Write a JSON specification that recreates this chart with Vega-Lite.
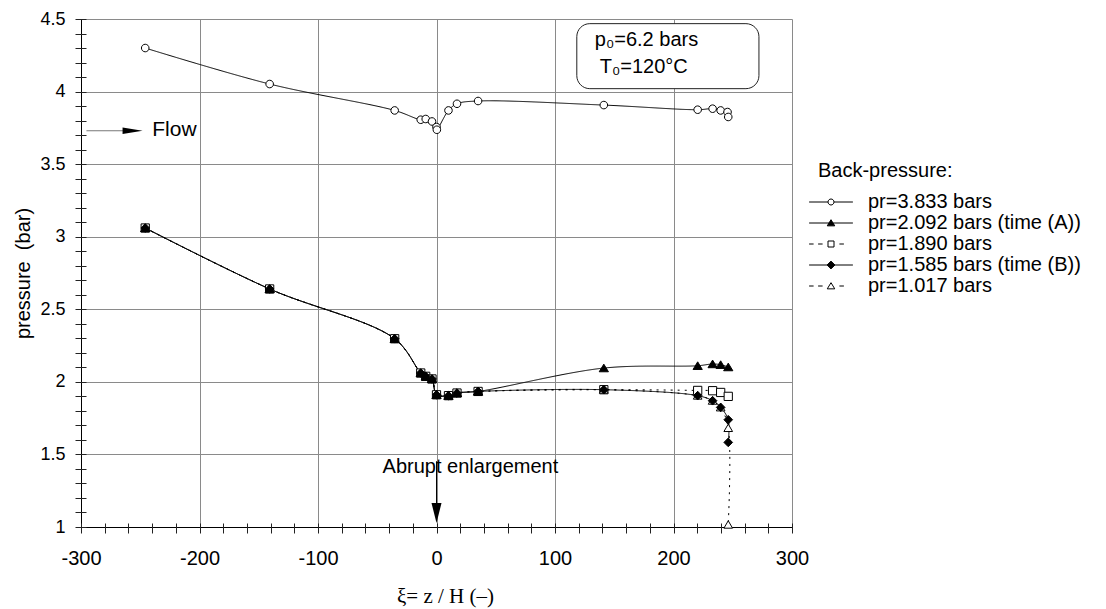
{
  "$schema": "https://vega.github.io/schema/vega-lite/v6.json",
  "width": 711,
  "height": 508,
  "autosize": {"type": "none"},
  "padding": {"left": 81, "top": 19, "right": 314, "bottom": 82},
  "background": "white",
  "config": {
    "view": {"stroke": null},
    "font": "Liberation Sans",
    "axis": {
      "domain": false,
      "tickColor": "#222",
      "tickWidth": 1,
      "labelColor": "#000",
      "titleColor": "#000",
      "titleFontWeight": "normal",
      "gridWidth": 1
    },
    "legend": {
      "orient": "none",
      "legendX": 737,
      "legendY": 142,
      "padding": 0,
      "symbolSize": 36,
      "symbolStrokeColor": "#000",
      "symbolStrokeWidth": 1,
      "symbolOffset": 3,
      "labelOffset": 27,
      "labelFont": "Liberation Sans",
      "labelFontSize": 20,
      "labelColor": "#000",
      "labelLimit": 400,
      "titleFont": "Liberation Sans",
      "titleFontSize": 20,
      "titleFontWeight": "normal",
      "titleColor": "#000",
      "titlePadding": 11,
      "rowPadding": 1
    }
  },
  "datasets": {
    "pressure": [
      {"series": "pr=3.833 bars", "i": 0, "x": -245.8, "y": 4.3},
      {"series": "pr=3.833 bars", "i": 1, "x": -140.8, "y": 4.052},
      {"series": "pr=3.833 bars", "i": 2, "x": -35.3, "y": 3.87},
      {"series": "pr=3.833 bars", "i": 3, "x": -13.3, "y": 3.806},
      {"series": "pr=3.833 bars", "i": 4, "x": -9.1, "y": 3.811},
      {"series": "pr=3.833 bars", "i": 5, "x": -3.8, "y": 3.794},
      {"series": "pr=3.833 bars", "i": 6, "x": 0, "y": 3.756},
      {"series": "pr=3.833 bars", "i": 7, "x": 0.3, "y": 3.737},
      {"series": "pr=3.833 bars", "i": 8, "x": 10.1, "y": 3.87},
      {"series": "pr=3.833 bars", "i": 9, "x": 17.3, "y": 3.916},
      {"series": "pr=3.833 bars", "i": 10, "x": 35.1, "y": 3.935},
      {"series": "pr=3.833 bars", "i": 11, "x": 141.2, "y": 3.907},
      {"series": "pr=3.833 bars", "i": 12, "x": 220.4, "y": 3.875},
      {"series": "pr=3.833 bars", "i": 13, "x": 233, "y": 3.882},
      {"series": "pr=3.833 bars", "i": 14, "x": 239.8, "y": 3.87},
      {"series": "pr=3.833 bars", "i": 15, "x": 245.6, "y": 3.859},
      {"series": "pr=3.833 bars", "i": 16, "x": 246.2, "y": 3.825},

      {"series": "pr=1.890 bars", "i": 0, "x": -245.8, "y": 3.06},
      {"series": "pr=1.890 bars", "i": 1, "x": -140.8, "y": 2.64},
      {"series": "pr=1.890 bars", "i": 2, "x": -35.3, "y": 2.297},
      {"series": "pr=1.890 bars", "i": 3, "x": -13.3, "y": 2.061},
      {"series": "pr=1.890 bars", "i": 4, "x": -9.1, "y": 2.038},
      {"series": "pr=1.890 bars", "i": 5, "x": -3.8, "y": 2.02},
      {"series": "pr=1.890 bars", "i": 6, "x": 0, "y": 1.911},
      {"series": "pr=1.890 bars", "i": 7, "x": 10.1, "y": 1.905},
      {"series": "pr=1.890 bars", "i": 8, "x": 17.3, "y": 1.923},
      {"series": "pr=1.890 bars", "i": 9, "x": 35.1, "y": 1.934},
      {"series": "pr=1.890 bars", "i": 10, "x": 141.2, "y": 1.946},
      {"series": "pr=1.890 bars", "i": 11, "x": 220.4, "y": 1.941},
      {"series": "pr=1.890 bars", "i": 12, "x": 233, "y": 1.939},
      {"series": "pr=1.890 bars", "i": 13, "x": 239.8, "y": 1.927},
      {"series": "pr=1.890 bars", "i": 14, "x": 246.2, "y": 1.9},

      {"series": "pr=1.017 bars", "i": 0, "x": -245.8, "y": 3.06},
      {"series": "pr=1.017 bars", "i": 1, "x": -140.8, "y": 2.64},
      {"series": "pr=1.017 bars", "i": 2, "x": -35.3, "y": 2.297},
      {"series": "pr=1.017 bars", "i": 3, "x": -13.3, "y": 2.061},
      {"series": "pr=1.017 bars", "i": 4, "x": -9.1, "y": 2.038},
      {"series": "pr=1.017 bars", "i": 5, "x": -3.8, "y": 2.02},
      {"series": "pr=1.017 bars", "i": 6, "x": 0, "y": 1.911},
      {"series": "pr=1.017 bars", "i": 7, "x": 10.1, "y": 1.905},
      {"series": "pr=1.017 bars", "i": 8, "x": 17.3, "y": 1.923},
      {"series": "pr=1.017 bars", "i": 9, "x": 35.1, "y": 1.934},
      {"series": "pr=1.017 bars", "i": 10, "x": 141.2, "y": 1.946},
      {"series": "pr=1.017 bars", "i": 11, "x": 220.4, "y": 1.905},
      {"series": "pr=1.017 bars", "i": 12, "x": 233, "y": 1.87},
      {"series": "pr=1.017 bars", "i": 13, "x": 239.8, "y": 1.824},
      {"series": "pr=1.017 bars", "i": 14, "x": 246.2, "y": 1.682},
      {"series": "pr=1.017 bars", "i": 15, "x": 246.2, "y": 1.016},

      {"series": "pr=2.092 bars (time (A))", "i": 0, "x": -245.8, "y": 3.06},
      {"series": "pr=2.092 bars (time (A))", "i": 1, "x": -140.8, "y": 2.64},
      {"series": "pr=2.092 bars (time (A))", "i": 2, "x": -35.3, "y": 2.297},
      {"series": "pr=2.092 bars (time (A))", "i": 3, "x": -13.3, "y": 2.061},
      {"series": "pr=2.092 bars (time (A))", "i": 4, "x": -9.1, "y": 2.038},
      {"series": "pr=2.092 bars (time (A))", "i": 5, "x": -3.8, "y": 2.02},
      {"series": "pr=2.092 bars (time (A))", "i": 6, "x": 0, "y": 1.911},
      {"series": "pr=2.092 bars (time (A))", "i": 7, "x": 10.1, "y": 1.905},
      {"series": "pr=2.092 bars (time (A))", "i": 8, "x": 17.3, "y": 1.923},
      {"series": "pr=2.092 bars (time (A))", "i": 9, "x": 35.1, "y": 1.934},
      {"series": "pr=2.092 bars (time (A))", "i": 10, "x": 141.2, "y": 2.095},
      {"series": "pr=2.092 bars (time (A))", "i": 11, "x": 220.4, "y": 2.111},
      {"series": "pr=2.092 bars (time (A))", "i": 12, "x": 233, "y": 2.123},
      {"series": "pr=2.092 bars (time (A))", "i": 13, "x": 239.8, "y": 2.118},
      {"series": "pr=2.092 bars (time (A))", "i": 14, "x": 246.2, "y": 2.102},

      {"series": "pr=1.585 bars (time (B))", "i": 0, "x": -245.8, "y": 3.06},
      {"series": "pr=1.585 bars (time (B))", "i": 1, "x": -140.8, "y": 2.64},
      {"series": "pr=1.585 bars (time (B))", "i": 2, "x": -35.3, "y": 2.297},
      {"series": "pr=1.585 bars (time (B))", "i": 3, "x": -13.3, "y": 2.061},
      {"series": "pr=1.585 bars (time (B))", "i": 4, "x": -9.1, "y": 2.038},
      {"series": "pr=1.585 bars (time (B))", "i": 5, "x": -3.8, "y": 2.02},
      {"series": "pr=1.585 bars (time (B))", "i": 6, "x": 0, "y": 1.911},
      {"series": "pr=1.585 bars (time (B))", "i": 7, "x": 10.1, "y": 1.905},
      {"series": "pr=1.585 bars (time (B))", "i": 8, "x": 17.3, "y": 1.923},
      {"series": "pr=1.585 bars (time (B))", "i": 9, "x": 35.1, "y": 1.934},
      {"series": "pr=1.585 bars (time (B))", "i": 10, "x": 141.2, "y": 1.946},
      {"series": "pr=1.585 bars (time (B))", "i": 11, "x": 220.4, "y": 1.905},
      {"series": "pr=1.585 bars (time (B))", "i": 12, "x": 233, "y": 1.87},
      {"series": "pr=1.585 bars (time (B))", "i": 13, "x": 239.8, "y": 1.824},
      {"series": "pr=1.585 bars (time (B))", "i": 14, "x": 246.2, "y": 1.739},
      {"series": "pr=1.585 bars (time (B))", "i": 15, "x": 246.2, "y": 1.583}
    ]
  },
  "encoding": {
    "x": {
      "field": "x",
      "type": "quantitative",
      "scale": {"domain": [-300, 300], "nice": false, "zero": false},
      "axis": {
        "title": "ξ= z / H (–)",
        "titleFont": "Liberation Serif",
        "titleFontSize": 21,
        "titlePadding": 17,
        "titleX": 364,
        "values": [-300, -280, -260, -240, -220, -200, -180, -160, -140, -120, -100, -80, -60, -40, -20, 0, 20, 40, 60, 80, 100, 120, 140, 160, 180, 200, 220, 240, 260, 280, 300],
        "labelExpr": "datum.value % 100 === 0 ? '' + datum.value : ''",
        "labelFont": "Liberation Sans",
        "labelFontSize": 20,
        "labelPadding": 15,
        "labelFlush": false,
        "labelOverlap": false,
        "offset": -4,
        "tickSize": 10,
        "grid": true,
        "gridColor": {"condition": {"test": "datum.value === -300", "value": "#000000"}, "value": "#8a8a8a"},
        "gridOpacity": {"condition": {"test": "datum.value % 100 === 0", "value": 1}, "value": 0}
      }
    },
    "y": {
      "field": "y",
      "type": "quantitative",
      "scale": {"domain": [1, 4.5], "nice": false, "zero": false},
      "axis": {
        "title": "pressure\u00a0 (bar)",
        "titleFont": "Liberation Sans",
        "titleFontSize": 20,
        "titlePadding": 6,
        "values": [1, 1.1, 1.2, 1.3, 1.4, 1.5, 1.6, 1.7, 1.8, 1.9, 2, 2.1, 2.2, 2.3, 2.4, 2.5, 2.6, 2.7, 2.8, 2.9, 3, 3.1, 3.2, 3.3, 3.4, 3.5, 3.6, 3.7, 3.8, 3.9, 4, 4.1, 4.2, 4.3, 4.4, 4.5],
        "labelExpr": "abs(datum.value * 2 - round(datum.value * 2)) < 0.001 ? '' + datum.value : ''",
        "labelFont": "Liberation Sans",
        "labelFontSize": 18,
        "labelPadding": 10,
        "labelFlush": false,
        "labelOverlap": false,
        "offset": -5,
        "tickSize": 11,
        "grid": true,
        "gridColor": {"condition": {"test": "datum.value === 1", "value": "#000000"}, "value": "#8a8a8a"},
        "gridOpacity": {"condition": {"test": "abs(datum.value * 2 - round(datum.value * 2)) < 0.001", "value": 1}, "value": 0}
      }
    }
  },
  "layer": [
    {
      "data": {"values": [{"x": 118.4, "x2": 272.1, "y": 4.468, "y2": 4.02}]},
      "mark": {"type": "rect", "fill": "white", "stroke": "#222", "strokeWidth": 1, "cornerRadius": 13},
      "encoding": {"x2": {"field": "x2"}, "y2": {"field": "y2"}}
    },
    {
      "data": {"name": "pressure"},
      "mark": {"type": "line", "interpolate": "catmull-rom", "color": "#000", "strokeWidth": 1},
      "encoding": {
        "order": {"field": "i", "type": "quantitative"},
        "detail": {"field": "series"},
        "strokeDash": {
          "field": "series",
          "type": "nominal",
          "legend": null,
          "scale": {
            "domain": ["pr=3.833 bars", "pr=2.092 bars (time (A))", "pr=1.890 bars", "pr=1.585 bars (time (B))", "pr=1.017 bars"],
            "range": [[1, 0], [1, 0], [2, 5], [1, 0], [2, 5]]
          }
        }
      }
    },
    {
      "data": {"name": "pressure"},
      "mark": {"type": "point", "filled": true, "stroke": "#000", "strokeWidth": 1, "opacity": 1, "size": 68},
      "encoding": {
        "shape": {
          "field": "series",
          "type": "nominal",
          "legend": null,
          "scale": {
            "domain": ["pr=3.833 bars", "pr=2.092 bars (time (A))", "pr=1.890 bars", "pr=1.585 bars (time (B))", "pr=1.017 bars"],
            "range": [
              "M-0.92,0A0.92,0.92,0,1,0,0.92,0A0.92,0.92,0,1,0,-0.92,0Z",
              "M0,-0.95L1.12,0.9L-1.12,0.9Z",
              "M-1,-1H1V1H-1Z",
              "M0,-1.05L1.05,0L0,1.05L-1.05,0Z",
              "M0,-0.95L1.05,0.85L-1.05,0.85Z"
            ]
          }
        },
        "fill": {
          "field": "series",
          "type": "nominal",
          "legend": null,
          "scale": {
            "domain": ["pr=3.833 bars", "pr=2.092 bars (time (A))", "pr=1.890 bars", "pr=1.585 bars (time (B))", "pr=1.017 bars"],
            "range": ["#ffffff", "#000000", "#ffffff", "#000000", "#ffffff"]
          }
        }
      }
    },
    {
      "data": {"values": [{"x": -295.4, "x2": -263.3, "y": 3.73}]},
      "mark": {"type": "rule", "color": "#777", "strokeWidth": 1},
      "encoding": {"x2": {"field": "x2"}}
    },
    {
      "data": {"values": [{"x": -256.5, "y": 3.73}]},
      "mark": {"type": "point", "filled": true, "color": "#000", "opacity": 1, "size": 400, "shape": "M-1,-0.32L1,0L-1,0.32Z"},
      "encoding": {}
    },
    {
      "data": {"values": [{"x": 0, "y": 1.453, "y2": 1.12}]},
      "mark": {"type": "rule", "color": "#000", "strokeWidth": 1},
      "encoding": {"y2": {"field": "y2"}}
    },
    {
      "data": {"values": [{"x": 0, "y": 1.096}]},
      "mark": {"type": "point", "filled": true, "color": "#000", "opacity": 1, "size": 400, "shape": "M-0.5,-1L0.5,-1L0,1Z"},
      "encoding": {}
    },
    {
      "data": {"values": [
        {"x": -239.9, "y": 3.696, "note": "Flow", "size": 21},
        {"x": -45.5, "y": 1.374, "note": "Abrupt enlargement", "size": 20},
        {"x": 133.6, "y": 4.311, "note": "p₀=6.2 bars", "size": 20},
        {"x": 137.8, "y": 4.128, "note": "T₀=120°C", "size": 20}
      ]},
      "mark": {"type": "text", "align": "left", "baseline": "alphabetic", "font": "Liberation Sans", "color": "#000"},
      "encoding": {
        "text": {"field": "note"},
        "size": {"field": "size", "type": "quantitative", "scale": null}
      }
    },
    {
      "data": {"name": "pressure"},
      "transform": [{"filter": "false"}],
      "mark": {"type": "point", "filled": true, "stroke": "#000", "strokeWidth": 1, "opacity": 1},
      "encoding": {
        "shape": {
          "field": "series",
          "type": "nominal",
          "scale": {
            "domain": ["pr=3.833 bars", "pr=2.092 bars (time (A))", "pr=1.890 bars", "pr=1.585 bars (time (B))", "pr=1.017 bars"],
            "range": [
              "M-7.3,0H-1M1,0H7.3M-1,0A1,1,0,1,0,1,0A1,1,0,1,0,-1,0Z",
              "M-7.3,0H7.3M0,-1.1L1.25,0.95L-1.25,0.95Z",
              "M-7.3,0H-5.8M-4.3,0H-2.8M-1,-1H1V1H-1ZM2.8,0H4.3",
              "M-7.3,0H7.3M0,-1.3L1.3,0L0,1.3L-1.3,0Z",
              "M-7.3,0H-5.8M-4.3,0H-2.8M0,-1.1L1.25,0.95L-1.25,0.95ZM2.8,0H4.3"
            ]
          },
          "legend": {
            "title": "Back-pressure:",
            "encode": {
              "symbols": {
                "update": {
                  "stroke": {"value": "#000"},
                  "strokeWidth": {"value": 1}
                }
              }
            }
          }
        },
        "fill": {
          "field": "series",
          "type": "nominal",
          "scale": {
            "domain": ["pr=3.833 bars", "pr=2.092 bars (time (A))", "pr=1.890 bars", "pr=1.585 bars (time (B))", "pr=1.017 bars"],
            "range": ["#ffffff", "#000000", "#ffffff", "#000000", "#ffffff"]
          },
          "legend": {
            "title": "Back-pressure:",
            "encode": {
              "symbols": {
                "update": {
                  "stroke": {"value": "#000"},
                  "strokeWidth": {"value": 1}
                }
              }
            }
          }
        },
        "stroke": {
          "field": "series",
          "type": "nominal",
          "scale": {
            "domain": ["pr=3.833 bars", "pr=2.092 bars (time (A))", "pr=1.890 bars", "pr=1.585 bars (time (B))", "pr=1.017 bars"],
            "range": ["#000000", "#000000", "#000000", "#000000", "#000000"]
          },
          "legend": {"title": "Back-pressure:"}
        }
      }
    }
  ],
  "resolve": {"scale": {"shape": "independent", "fill": "independent", "stroke": "independent"}}
}
